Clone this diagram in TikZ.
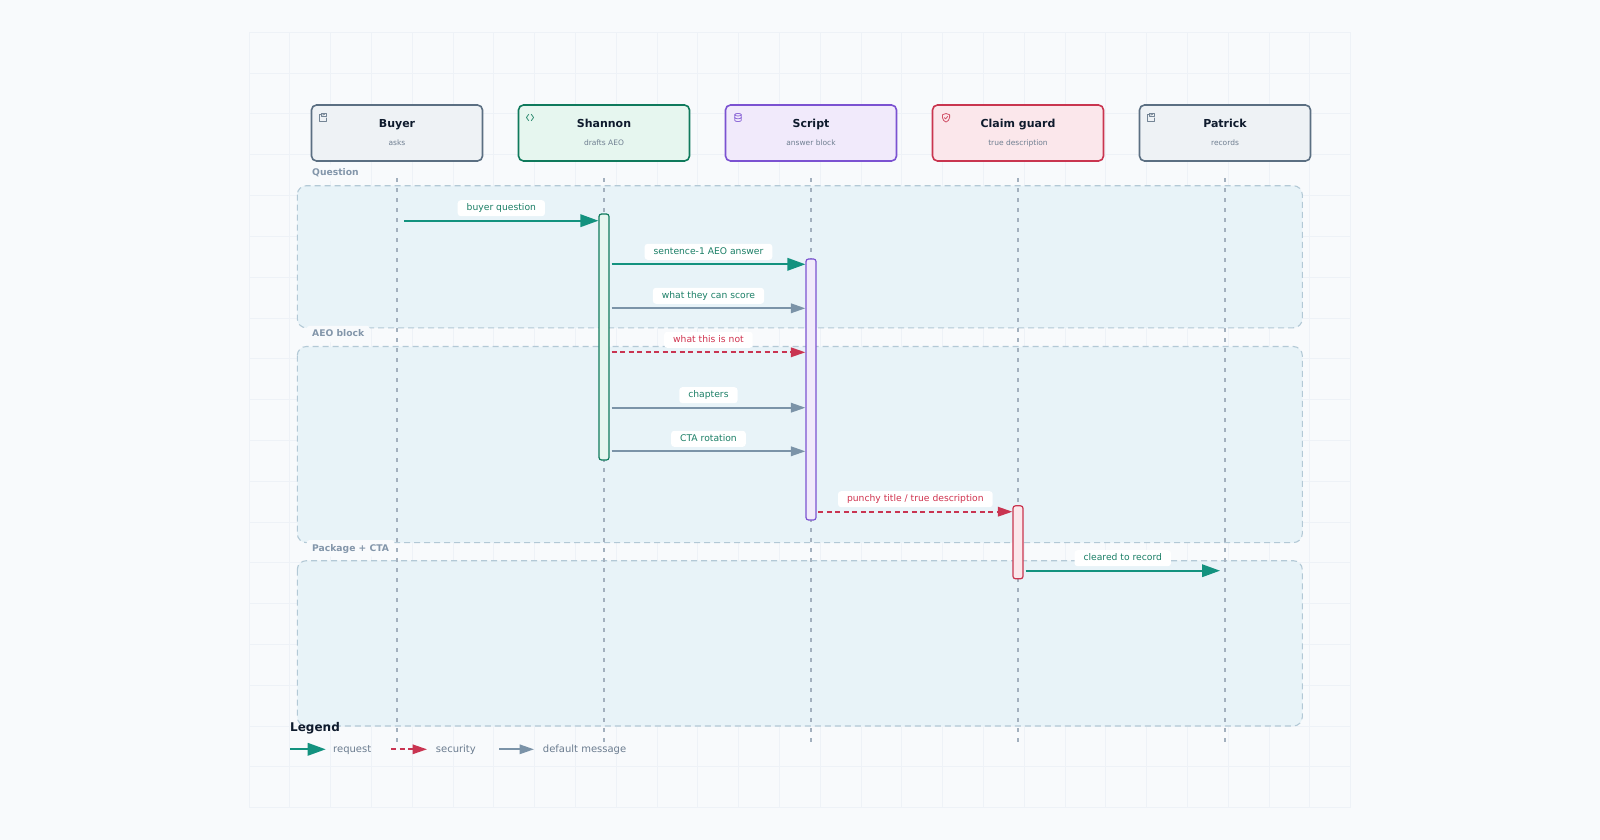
\documentclass[tikz,border=0pt]{standalone}
\usepackage{fontspec}
\setmainfont{DejaVu Sans}
\usetikzlibrary{arrows.meta}
\definecolor{bgc}{HTML}{F8FAFC}
\definecolor{gridc}{HTML}{EEF2F7}
\definecolor{titlec}{HTML}{0F1B2D}
\definecolor{subc}{HTML}{6F7F91}
\definecolor{slate}{HTML}{5B6F82}
\definecolor{slatefill}{HTML}{EEF2F5}
\definecolor{grn}{HTML}{0F7A5C}
\definecolor{grnfill}{HTML}{E6F6EF}
\definecolor{pur}{HTML}{7B52D1}
\definecolor{purfill}{HTML}{F1EAFB}
\definecolor{crim}{HTML}{C9354F}
\definecolor{crimfill}{HTML}{FBE7EB}
\definecolor{grpfill}{HTML}{E8F3F8}
\definecolor{grpline}{HTML}{B3C9D6}
\definecolor{grptext}{HTML}{8396AA}
\definecolor{lifec}{HTML}{A3B0BE}
\definecolor{reqc}{HTML}{13927F}
\definecolor{secc}{HTML}{C93451}
\definecolor{defc}{HTML}{7B93A8}
\definecolor{labgrn}{HTML}{1B7F66}
\definecolor{labred}{HTML}{D0334F}
\definecolor{legtext}{HTML}{6B7C8F}
\begin{document}
\begin{tikzpicture}[x=1pt,y=-1pt,
  gridl/.style={draw=gridc, line width=0.8pt},
  actorbox/.style={draw, line width=1.6pt, rounded corners=5pt, minimum width=171pt, minimum height=56pt, inner sep=0pt},
  ttl/.style={font=\fontsize{11}{13}\selectfont\bfseries, text=titlec, inner sep=0pt, anchor=base},
  subt/.style={font=\fontsize{7.5}{9}\selectfont, text=subc, inner sep=0pt, anchor=base},
  grp/.style={fill=grpfill, draw=grpline, dash pattern=on 6pt off 4pt, line width=1.1pt, rounded corners=9pt},
  grplab/.style={fill=bgc, rounded corners=3pt, font=\fontsize{9.2}{11}\selectfont\bfseries, text=grptext, inner xsep=5.5pt, inner ysep=4pt, text height=7pt, text depth=1.5pt, anchor=west},
  life/.style={draw=lifec, line width=1.2pt, dash pattern=on 3.5pt off 6.5pt},
  bar/.style={line width=1.2pt, rounded corners=2.5pt, minimum width=10pt, inner sep=0pt},
  req/.style={draw=reqc, line width=2pt, -{Triangle[length=18pt,width=12.5pt]}},
  sec/.style={draw=secc, line width=1.7pt, dash pattern=on 5pt off 3.5pt, -{Triangle[length=14.5pt,width=9.5pt]}},
  dflt/.style={draw=defc, line width=1.8pt, -{Triangle[length=14.5pt,width=9.5pt]}},
  lab/.style={fill=white, rounded corners=3pt, font=\fontsize{9.2}{11}\selectfont, inner xsep=9pt, inner ysep=3.5pt, text height=7pt, text depth=2pt},
  icon/.style={line width=0.8pt, line cap=round, line join=round},
  legt/.style={font=\fontsize{10}{12}\selectfont, text=legtext, inner sep=0pt, anchor=west, text height=7.5pt, text depth=2pt}
]
\useasboundingbox (0,0) rectangle (1600,840);
\fill[bgc] (0,0) rectangle (1600,840);
% grid
\foreach \i in {0,...,27} \draw[gridl] ({249+40.8*\i},32.3) -- ({249+40.8*\i},807.7);
\foreach \j in {0,...,19} \draw[gridl] (249,{32.3+40.8*\j}) -- (1350.6,{32.3+40.8*\j});

% groups
\draw[grp] (297.3,185.7) rectangle (1302.3,327.8);
\draw[grp] (297.3,346.5) rectangle (1302.3,542.6);
\draw[grp] (297.3,560.7) rectangle (1302.3,726);
\node[grplab] (g1) at (306.5,172.5) {Question};
\node[grplab] (g2) at (306.5,334) {AEO block};
\node[grplab] (g3) at (306.5,548.3) {Package + CTA};

% actors
\node[actorbox, draw=slate, fill=slatefill] (buyer) at (397,133) {};
\node[actorbox, draw=grn, fill=grnfill] (shannon) at (604,133) {};
\node[actorbox, draw=pur, fill=purfill] (script) at (811,133) {};
\node[actorbox, draw=crim, fill=crimfill] (claim) at (1018,133) {};
\node[actorbox, draw=slate, fill=slatefill] (patrick) at (1225,133) {};
\node[ttl] (t1) at (397,127.7) {Buyer};
\node[subt] (s1) at (397,145.4) {asks};
\node[ttl] (t2) at (604,127.7) {Shannon};
\node[subt] (s2) at (604,145.4) {drafts AEO};
\node[ttl] (t3) at (811,127.7) {Script};
\node[subt] (s3) at (811,145.4) {answer block};
\node[ttl] (t4) at (1018,127.7) {Claim guard};
\node[subt] (s4) at (1018,145.4) {true description};
\node[ttl] (t5) at (1225,127.7) {Patrick};
\node[subt] (s5) at (1225,145.4) {records};

% icons
\foreach \cx in {322.5,1150.5}{
\begin{scope}[shift={(\cx,117.5)}]
  \draw[icon, draw=slate!85] (-0.5,-3.5) -- (-3.5,-3.5) -- (-3.5,3.5) -- (3.5,3.5) -- (3.5,0.5);
  \draw[icon, draw=slate!85] (-1,-1) rectangle (3.5,-4.2);
  \draw[icon, draw=slate!85] (0.3,-2.4) -- (2.3,-3.4);
\end{scope}}
\begin{scope}[shift={(530,117.5)}]
  \draw[icon, draw=grn!85] (-1.3,-3.2) -- (-3.6,0) -- (-1.3,3.2);
  \draw[icon, draw=grn!85] (1.3,-3.2) -- (3.6,0) -- (1.3,3.2);
\end{scope}
\begin{scope}[shift={(738,117.5)}]
  \draw[icon, draw=pur!85] (0,-2.8) ellipse [x radius=3.3, y radius=1.3];
  \draw[icon, draw=pur!85] (-3.3,-2.8) -- (-3.3,2.8) arc[start angle=180, end angle=360, x radius=3.3, y radius=-1.3] -- (3.3,-2.8);
  \draw[icon, draw=pur!85] (-3.3,0) arc[start angle=180, end angle=360, x radius=3.3, y radius=-1.3];
\end{scope}
\begin{scope}[shift={(946,117.5)}]
  \draw[icon, draw=crim!85] (0,-4) -- (3.6,-2.7) -- (3.6,0) .. controls (3.6,2.4) and (1.6,3.8) .. (0,4.6) .. controls (-1.6,3.8) and (-3.6,2.4) .. (-3.6,0) -- (-3.6,-2.7) -- cycle;
  \draw[icon, draw=crim!85] (-1.6,0.2) -- (-0.4,1.4) -- (1.7,-1.1);
\end{scope}

% lifelines
\coordinate (e1) at (397,741.7);
\coordinate (e2) at (604,741.7);
\coordinate (e3) at (811,741.7);
\coordinate (e4) at (1018,741.7);
\coordinate (e5) at (1225,741.7);
\draw[life] ([yshift=-16.5pt]buyer.south) -- (e1);
\draw[life] ([yshift=-16.5pt]shannon.south) -- (e2);
\draw[life] ([yshift=-16.5pt]script.south) -- (e3);
\draw[life] ([yshift=-16.5pt]claim.south) -- (e4);
\draw[life] ([yshift=-16.5pt]patrick.south) -- (e5);

% activation bars
\node[bar, draw=grn, fill=grnfill, minimum height=246pt] (shact) at (604,337) {};
\node[bar, draw=pur, fill=purfill, minimum height=261pt] (scact) at (811,389.5) {};
\node[bar, draw=crim, fill=crimfill, minimum height=73pt] (cgact) at (1018,542.3) {};

% messages
\coordinate (m1) at (404.3,220.7);
\draw[req] (m1) -- (shact.west |- m1) node[midway, yshift=12.5pt, lab, text=labgrn] (l1) {buyer question};
\coordinate (m2) at (611.5,264.3);
\draw[req] (m2) -- (scact.west |- m2) node[midway, yshift=12.5pt, lab, text=labgrn] (l2) {sentence-1 AEO answer};
\coordinate (m3) at (611.5,308.3);
\draw[dflt] (m3) -- (scact.west |- m3) node[midway, yshift=12.5pt, lab, text=labgrn] (l3) {what they can score};
\coordinate (m4) at (611.5,352.3);
\draw[sec] (m4) -- (scact.west |- m4) node[midway, yshift=12.5pt, lab, text=labred] (l4) {what this is not};
\coordinate (m5) at (611.5,407.7);
\draw[dflt] (m5) -- (scact.west |- m5) node[midway, yshift=12.5pt, lab, text=labgrn] (l5) {chapters};
\coordinate (m6) at (611.5,451.3);
\draw[dflt] (m6) -- (scact.west |- m6) node[midway, yshift=12.5pt, lab, text=labgrn] (l6) {CTA rotation};
\coordinate (m7) at (818.3,511.7);
\draw[sec] (m7) -- (cgact.west |- m7) node[midway, yshift=12.5pt, lab, text=labred] (l7) {punchy title / true description};
\coordinate (m8) at (1025.5,570.7);
\coordinate (m8e) at (1220,570.7);
\draw[req] (m8) -- (m8e) node[midway, yshift=12.5pt, lab, text=labgrn] (l8) {cleared to record};

% legend
\node[anchor=west, inner sep=0pt, font=\fontsize{12}{14}\selectfont\bfseries, text=titlec] (legend) at (290,728.5) {Legend};
\coordinate (la1) at (290,749.3); \coordinate (la2) at (325.7,749.3);
\draw[req] (la1) -- (la2);
\node[legt] (lt1) at (333,749.3) {request};
\coordinate (lb1) at (391,749.3); \coordinate (lb2) at (427,749.3);
\draw[sec] (lb1) -- (lb2);
\node[legt] (lt2) at (435.7,749.3) {security};
\coordinate (lc1) at (499,749.3); \coordinate (lc2) at (534,749.3);
\draw[dflt] (lc1) -- (lc2);
\node[legt] (lt3) at (542.7,749.3) {default message};
\end{tikzpicture}
\end{document}
